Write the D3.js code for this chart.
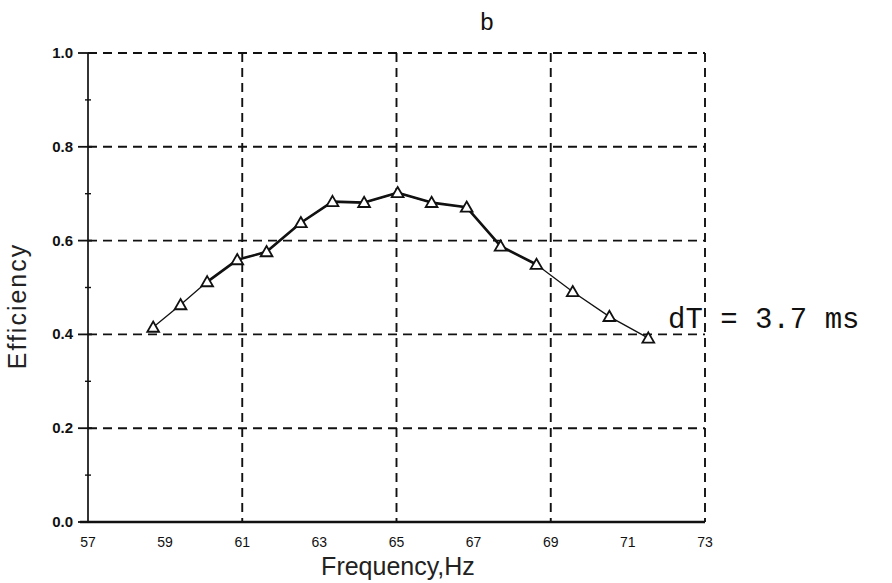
<!DOCTYPE html>
<html><head><meta charset="utf-8">
<script src="https://cdn.jsdelivr.net/npm/d3@7/dist/d3.min.js"></script>
<style>body{margin:0;background:#fff}svg{display:block}</style>
</head><body>
<svg id="c" width="892" height="583"></svg>
<script>
const freq = [58.69, 59.40, 60.09, 60.87, 61.63, 62.52, 63.34, 64.16, 65.03, 65.91, 66.82, 67.70, 68.63, 69.57, 70.52, 71.53];
const efficiency = [0.415, 0.463, 0.512, 0.559, 0.576, 0.638, 0.683, 0.681, 0.702, 0.681, 0.671, 0.588, 0.549, 0.491, 0.438, 0.392];
const xTicks = [57, 59, 61, 63, 65, 67, 69, 71, 73];
const xGrid = [61, 65, 69, 73];
const yTicks = [0.0, 0.2, 0.4, 0.6, 0.8, 1.0];
const yMinor = [0.1, 0.3, 0.5, 0.7, 0.9];
const title = "b";
const annotation = "dT = 3.7 ms";
const xLabel = "Frequency,Hz";
const yLabel = "Efficiency";

const svg = d3.select("#c");
const x = d3.scaleLinear().domain([57, 73]).range([88, 705]);
const y = d3.scaleLinear().domain([0, 1]).range([522, 53]);

// grid
const g = svg.append("g").attr("stroke", "#111").attr("stroke-width", 1.9).attr("stroke-dasharray", "9,6").attr("fill", "none");
g.selectAll("line.h").data(yTicks.filter(d => d > 0)).join("line")
  .attr("x1", x(57)).attr("x2", x(73)).attr("y1", d => y(d)).attr("y2", d => y(d));
g.selectAll("line.v").data(xGrid).join("line").attr("class", "v")
  .attr("x1", d => x(d)).attr("x2", d => x(d)).attr("y1", y(1)).attr("y2", y(0));

// left axis
svg.append("line").attr("x1", x(57)).attr("x2", x(57)).attr("y1", y(1)).attr("y2", y(0))
  .attr("stroke", "#111").attr("stroke-width", 1.7);
// bottom axis
svg.append("line").attr("x1", x(57) - 8).attr("x2", x(73)).attr("y1", y(0)).attr("y2", y(0))
  .attr("stroke", "#111").attr("stroke-width", 2.4);

// y ticks
svg.selectAll("line.yt").data(yTicks).join("line").attr("class", "yt")
  .attr("x1", x(57) - 10).attr("x2", x(57) + 4).attr("y1", d => y(d)).attr("y2", d => y(d))
  .attr("stroke", "#111").attr("stroke-width", 1.8);
svg.selectAll("line.ym").data(yMinor).join("line").attr("class", "ym")
  .attr("x1", x(57) - 3).attr("x2", x(57) + 3).attr("y1", d => y(d)).attr("y2", d => y(d))
  .attr("stroke", "#111").attr("stroke-width", 1.4);

svg.selectAll("text.yl").data(yTicks).join("text").attr("class", "yl")
  .attr("x", 73).attr("y", d => y(d) + 5).attr("text-anchor", "end")
  .attr("font-family", "Liberation Sans, Arial, sans-serif").attr("font-size", 15).attr("font-weight", "bold")
  .attr("fill", "#111").text(d => d.toFixed(1));

svg.selectAll("text.xl").data(xTicks).join("text").attr("class", "xl")
  .attr("x", d => x(d)).attr("y", 547).attr("text-anchor", "middle")
  .attr("font-family", "Liberation Sans, Arial, sans-serif").attr("font-size", 14)
  .attr("fill", "#111").text(d => d);

// line
const line = d3.line().x((d, i) => x(freq[i])).y(d => y(d)).curve(d3.curveLinear);
svg.append("path").attr("d", line(efficiency)).attr("fill", "none").attr("stroke", "#111").attr("stroke-width", 1.3);
const mid = efficiency.map((d, i) => i >= 2 && i <= 12 ? d : null);
const lineMid = d3.line().defined(d => d !== null).x((d, i) => x(freq[i])).y(d => y(d));
svg.append("path").attr("d", lineMid(mid)).attr("fill", "none").attr("stroke", "#111").attr("stroke-width", 2.6).attr("stroke-linejoin", "round");

// triangles
const tri = d3.symbol().type(d3.symbolTriangle).size(60);
svg.selectAll("path.pt").data(efficiency).join("path").attr("class", "pt")
  .attr("d", tri).attr("transform", (d, i) => `translate(${x(freq[i])},${y(d) + 1})`)
  .attr("fill", "#fff").attr("stroke", "#111").attr("stroke-width", 1.8);

// texts
svg.append("text").attr("x", 487).attr("y", 30).attr("text-anchor", "middle")
  .attr("font-family", "Liberation Mono, Courier New, monospace").attr("font-size", 24).attr("fill", "#111").text(title);
svg.append("text").attr("x", 668).attr("y", 328)
  .attr("font-family", "Liberation Mono, Courier New, monospace").attr("font-size", 29).attr("fill", "#111").text(annotation);
svg.append("text").attr("x", 398).attr("y", 575).attr("text-anchor", "middle")
  .attr("font-family", "Liberation Sans, Arial, sans-serif").attr("font-size", 25).attr("fill", "#222").text(xLabel);
svg.append("text").attr("transform", "translate(26,306) rotate(-90)").attr("text-anchor", "middle")
  .attr("font-family", "Liberation Sans, Arial, sans-serif").attr("font-size", 25).attr("fill", "#222")
  .attr("letter-spacing", 2).text(yLabel);
</script>
</body></html>
